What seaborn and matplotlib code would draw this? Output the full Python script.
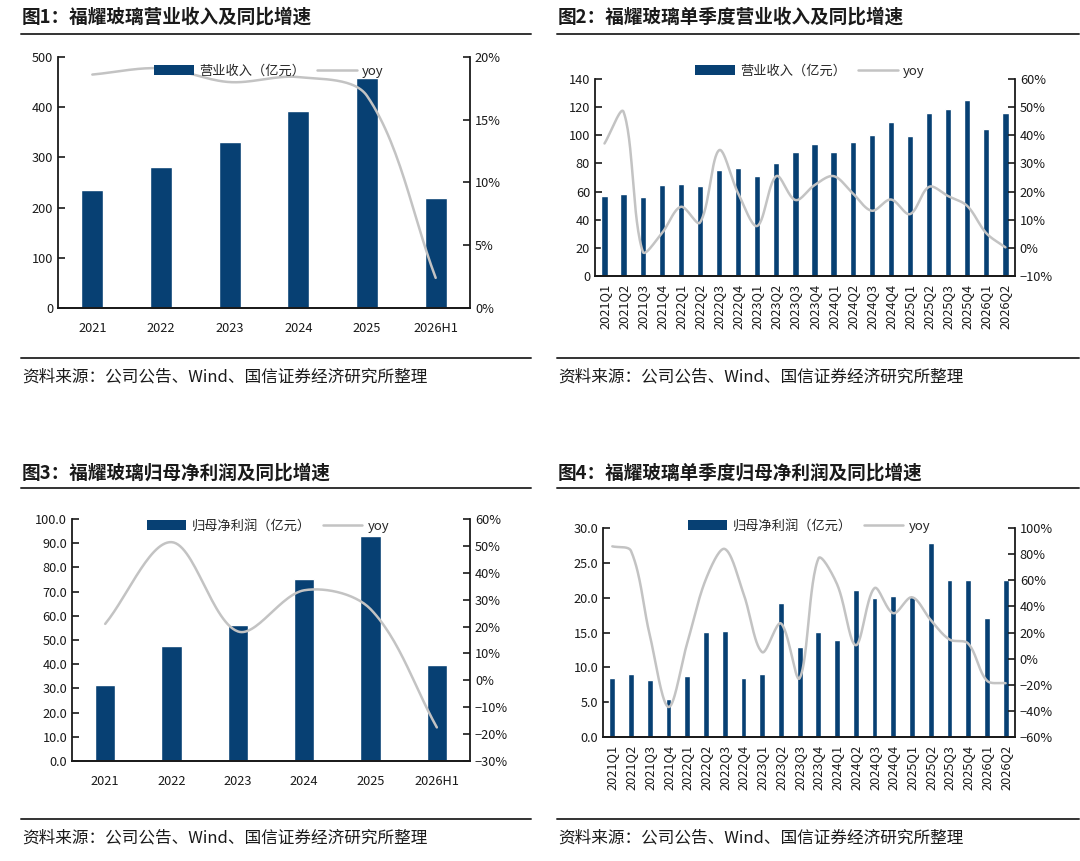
import numpy as np
import seaborn as sns
import matplotlib.pyplot as plt
from matplotlib.patches import Patch
from matplotlib.lines import Line2D
from matplotlib.ticker import FuncFormatter, MultipleLocator

# === data ===
years = ["2021", "2022", "2023", "2024", "2025", "2026H1"]
quarters = ["2021Q1", "2021Q2", "2021Q3", "2021Q4", "2022Q1", "2022Q2", "2022Q3", "2022Q4",
            "2023Q1", "2023Q2", "2023Q3", "2023Q4", "2024Q1", "2024Q2", "2024Q3", "2024Q4",
            "2025Q1", "2025Q2", "2025Q3", "2025Q4", "2026Q1", "2026Q2"]

rev_year = [236, 281, 331, 393, 458, 219]
rev_year_yoy = [18.6, 19.1, 18.0, 18.4, 16.9, 2.4]

rev_q = [57.1, 58.5, 56.2, 64.7, 65.6, 63.7, 75.5, 77.0, 70.8, 80.0, 88.3,
         93.7, 88.5, 95.4, 100.1, 109.8, 99.4, 115.7, 119.0, 125.4, 104.6, 115.7]
rev_q_yoy = [37.1, 48.3, -1.3, 5.2, 14.6, 9.0, 34.7, 19.4, 7.8, 25.5, 17.0,
             22.3, 25.5, 19.4, 13.2, 17.2, 12.0, 21.7, 18.4, 14.9, 5.2, 0.2]

np_year = [31.4, 47.5, 56.4, 75.1, 93.1, 39.6]
np_year_yoy = [21.0, 51.4, 18.2, 33.5, 26.5, -17.5]

np_q = [8.5, 9.1, 8.2, 5.5, 8.7, 15.1, 15.2, 8.5, 9.1, 19.2, 12.9,
        15.1, 13.9, 21.1, 19.9, 20.2, 20.3, 27.8, 22.6, 22.5, 17.1, 22.6]
np_q_yoy = [86.0, 82.4, 18.0, -37.0, 12.0, 61.0, 84.0, 50.0, 5.0, 27.0, -15.0,
            76.6, 57.0, 10.3, 54.0, 34.8, 47.0, 29.6, 14.7, 11.6, -16.8, -18.8]

BLUE = "#074073"
GRAY = "#c3c3c3"
INK = "#1a1a1a"
SOURCE = "资料来源：公司公告、Wind、国信证券经济研究所整理"
W, H = 1080, 861

sns.set_style("white")
plt.rcParams["font.family"] = ["Noto Sans CJK SC", "DejaVu Sans"]
plt.rcParams["axes.unicode_minus"] = True


def smooth(vals, sx, sy, steps=30):
    # Excel-like smoothed line: bezier through the points, arms scaled by
    # the on-screen segment lengths (sx, sy = pixels per data unit)
    P = np.column_stack([np.arange(len(vals)) * sx, np.asarray(vals, float) * sy])
    n = len(P)
    out = []
    for i in range(n - 1):
        p0 = P[i - 1] if i > 0 else P[i]
        p3 = P[i + 2] if i + 2 < n else P[i + 1]
        d01 = np.linalg.norm(P[i] - p0)
        d12 = np.linalg.norm(P[i + 1] - P[i])
        d23 = np.linalg.norm(p3 - P[i + 1])
        b1 = P[i] + (P[i + 1] - p0) * (d12 / (d01 + d12)) / 3
        b2 = P[i + 1] - (p3 - P[i]) * (d12 / (d12 + d23)) / 3
        t = np.linspace(0, 1, steps, endpoint=(i == n - 2))[:, None]
        seg = (1 - t) ** 3 * P[i] + 3 * (1 - t) ** 2 * t * b1 + 3 * (1 - t) * t ** 2 * b2 + t ** 3 * P[i + 1]
        out.append(seg)
    out = np.vstack(out)
    return out[:, 0] / sx, out[:, 1] / sy


def panel(rect, cats, bars, yoy, bar_label, ylim, ystep, rlim, rstep, lfmt, rotate,
          legend_xy, bar_w):
    ax = fig.add_axes(rect)
    sns.barplot(x=cats, y=bars, color=BLUE, saturation=1, width=bar_w, ax=ax)
    ax.set_ylim(*ylim)
    ax.yaxis.set_major_locator(MultipleLocator(ystep))
    ax.yaxis.set_major_formatter(FuncFormatter(lambda v, _: lfmt.format(v)))
    ax.set_xlim(-0.5, len(cats) - 0.5)

    tw = ax.twinx()
    sx = rect[2] * W / len(cats)
    sy = rect[3] * H / (rlim[1] - rlim[0])
    xs, ys = smooth(yoy, sx, sy)
    sns.lineplot(x=xs, y=ys, ax=tw, color=GRAY, linewidth=1.8, sort=False, estimator=None)
    tw.set_ylim(*rlim)
    tw.yaxis.set_major_locator(MultipleLocator(rstep))
    tw.yaxis.set_major_formatter(FuncFormatter(lambda v, _: f"{v:.0f}%".replace("-", "\u2212")))

    for a in (ax, tw):
        a.set_xlabel("")
        a.set_ylabel("")
        a.spines["top"].set_visible(False)
        for s in ("left", "right", "bottom"):
            a.spines[s].set_color(INK)
            a.spines[s].set_linewidth(1.3)
        a.tick_params(axis="y", direction="in", length=5, width=1.2, colors=INK,
                      labelsize=9.2, labelcolor=INK)
    ax.tick_params(axis="x", length=0, labelsize=9.2, labelcolor=INK, pad=10 if not rotate else 6)
    if rotate:
        for lab in ax.get_xticklabels():
            lab.set_rotation(90)
    ax.spines["right"].set_visible(False)
    tw.spines["left"].set_visible(False)

    handles = [Patch(facecolor=BLUE, edgecolor="none"),
               Line2D([], [], color=GRAY, linewidth=1.8)]
    tw.legend(handles, [bar_label, "yoy"], loc="center", bbox_to_anchor=legend_xy,
              bbox_transform=fig.transFigure, ncol=2, frameon=False, fontsize=9.5,
              handlelength=3.0, handleheight=0.7, handletextpad=0.4, columnspacing=0.9)
    return ax


fig = plt.figure(figsize=(W / 100, H / 100), dpi=100)

panel([0.0537, 0.6423, 0.3815, 0.2915], years, rev_year, rev_year_yoy, "营业收入（亿元）",
      (0, 500), 100, (0, 20), 5, "{:.0f}", False, (0.249, 0.9175), 0.32)
panel([0.5509, 0.6794, 0.3889, 0.2288], quarters, rev_q, rev_q_yoy, "营业收入（亿元）",
      (0, 140), 20, (-10, 60), 10, "{:.0f}", True, (0.750, 0.9175), 0.33)
panel([0.0667, 0.1161, 0.3685, 0.2811], years, np_year, np_year_yoy, "归母净利润（亿元）",
      (0, 100), 10, (-30, 60), 10, "{:.1f}", False, (0.248, 0.389), 0.31)
panel([0.5583, 0.1440, 0.3815, 0.2427], quarters, np_q, np_q_yoy, "归母净利润（亿元）",
      (0, 30), 5, (-60, 100), 20, "{:.1f}", True, (0.749, 0.389), 0.31)

# titles, rules and source notes
titles = [("图1：福耀玻璃营业收入及同比增速", 0.0204, 0.980),
          ("图2：福耀玻璃单季度营业收入及同比增速", 0.5167, 0.980),
          ("图3：福耀玻璃归母净利润及同比增速", 0.0204, 0.4506),
          ("图4：福耀玻璃单季度归母净利润及同比增速", 0.5167, 0.4506)]
for text, x, y in titles:
    fig.text(x, y, text, ha="left", va="center", fontsize=13.4, fontweight="bold", color=INK)

for x0, x1 in [(0.0195, 0.492), (0.5157, 0.999)]:
    for y in (0.9605, 0.4332, 0.584, 0.0488):
        fig.add_artist(Line2D([x0, x1], [y, y], transform=fig.transFigure, color="#333333", lw=1.4))

for x in (0.0204, 0.5167):
    for y in (0.562, 0.0267):
        fig.text(x, y, SOURCE, ha="left", va="center", fontsize=12, fontweight="medium", color=INK)

fig.savefig("out.png", dpi=100)
